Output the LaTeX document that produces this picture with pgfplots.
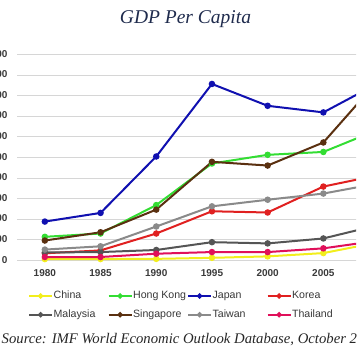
\documentclass[border=0pt]{standalone}
\usepackage{pgfplots}
\pgfplotsset{compat=1.18}
\usepackage{fontspec}
\setmainfont{Liberation Serif}
\newfontfamily\arialfont{Liberation Sans}
\definecolor{titlenavy}{HTML}{1F2B4D}
\definecolor{cChina}{HTML}{F2EE1C}
\definecolor{cHK}{HTML}{33DD33}
\definecolor{cJapan}{HTML}{1010B0}
\definecolor{cKorea}{HTML}{E02020}
\definecolor{cMalaysia}{HTML}{555555}
\definecolor{cSingapore}{HTML}{5A3010}
\definecolor{cTaiwan}{HTML}{8A8A8A}
\definecolor{cThailand}{HTML}{E0105A}
\definecolor{tickgray}{HTML}{3A3A3A}
\newcommand{\lgd}[1]{\makebox[53.5pt][l]{#1}}
\begin{document}
\begin{tikzpicture}
\useasboundingbox (0pt,0pt) rectangle (356pt,364pt);
\begin{scope}
\clip (0pt,0pt) rectangle (356pt,364pt);
\begin{axis}[
  overlay,
  at={(17pt,103.7pt)}, anchor=south west,
  scale only axis, width=389.9pt, height=206pt,
  xmin=1977.5, xmax=2012.5, ymin=0, ymax=50000,
  xtick={1980,1985,...,2010}, ytick={0,5000,...,50000},
  major tick length=0pt,
  axis line style={draw=none},
  ymajorgrids, grid style={color=black!16, line width=0.7pt},
  tick label style={font=\arialfont\fontsize{10}{12}\selectfont\bfseries, color=tickgray},
  /pgf/number format/assume math mode=true,
  /pgf/number format/1000 sep={,},
  xticklabel style={/pgf/number format/1000 sep={}, yshift=-5.5pt},
  yticklabel style={xshift=-6pt},
  scaled y ticks=false,
  every axis plot/.append style={line width=2pt, mark=*, mark size=2.2pt},
  legend columns=4,
  legend image code/.code={\draw[mark repeat=2,mark phase=2,#1, line width=2pt, mark size=1.6pt] plot coordinates {(0pt,0pt) (11.5pt,0pt) (23pt,0pt)};},
  legend style={at={(axis description cs:0.028,-0.145)}, anchor=north west, draw=none, fill=none, inner sep=0pt,
    row sep=7.5pt,
    nodes={inner sep=0.5pt, text height=8pt, text depth=2.2pt, font=\arialfont\fontsize{10.6}{13}\selectfont, text=black!78}},
]
\addplot[color=cChina] coordinates {(1980,300) (1985,300) (1990,350) (1995,600) (2000,950) (2005,1750) (2010,4400)};
\addlegendentry{\lgd{China}}
\addplot[color=cHK] coordinates {(1980,5700) (1985,6500) (1990,13400) (1995,23500) (2000,25600) (2005,26300) (2010,31800)};
\addlegendentry{\lgd{Hong Kong}}
\addplot[color=cJapan] coordinates {(1980,9400) (1985,11500) (1990,25200) (1995,42800) (2000,37500) (2005,35900) (2010,43100)};
\addlegendentry{\lgd{Japan}}
\addplot[color=cKorea] coordinates {(1980,1700) (1985,2400) (1990,6500) (1995,11900) (2000,11600) (2005,17900) (2010,20700)};
\addlegendentry{\lgd{Korea}}
\addplot[color=cMalaysia] coordinates {(1980,1900) (1985,2000) (1990,2500) (1995,4400) (2000,4100) (2005,5300) (2010,8600)};
\addlegendentry{\lgd{Malaysia}}
\addplot[color=cSingapore] coordinates {(1980,4800) (1985,6800) (1990,12300) (1995,23900) (2000,23000) (2005,28600) (2010,43900)};
\addlegendentry{\lgd{Singapore}}
\addplot[color=cTaiwan] coordinates {(1980,2600) (1985,3400) (1990,8200) (1995,13100) (2000,14700) (2005,16200) (2010,18700)};
\addlegendentry{\lgd{Taiwan}}
\addplot[color=cThailand] coordinates {(1980,800) (1985,800) (1990,1600) (1995,2000) (2000,2000) (2005,2900) (2010,4800)};
\addlegendentry{\lgd{Thailand}}
\end{axis}
\node[overlay, anchor=base, inner sep=0pt, font=\fontsize{19.5}{22}\selectfont\itshape, text=titlenavy] at (185.5pt,340pt) {GDP Per Capita};
\node[overlay, anchor=base west, inner sep=0pt, font=\fontsize{14.7}{18}\selectfont\itshape, text=black!85] at (1.5pt,20pt) {Source: IMF World Economic Outlook Database, October 2013};
\end{scope}
\end{tikzpicture}
\end{document}
